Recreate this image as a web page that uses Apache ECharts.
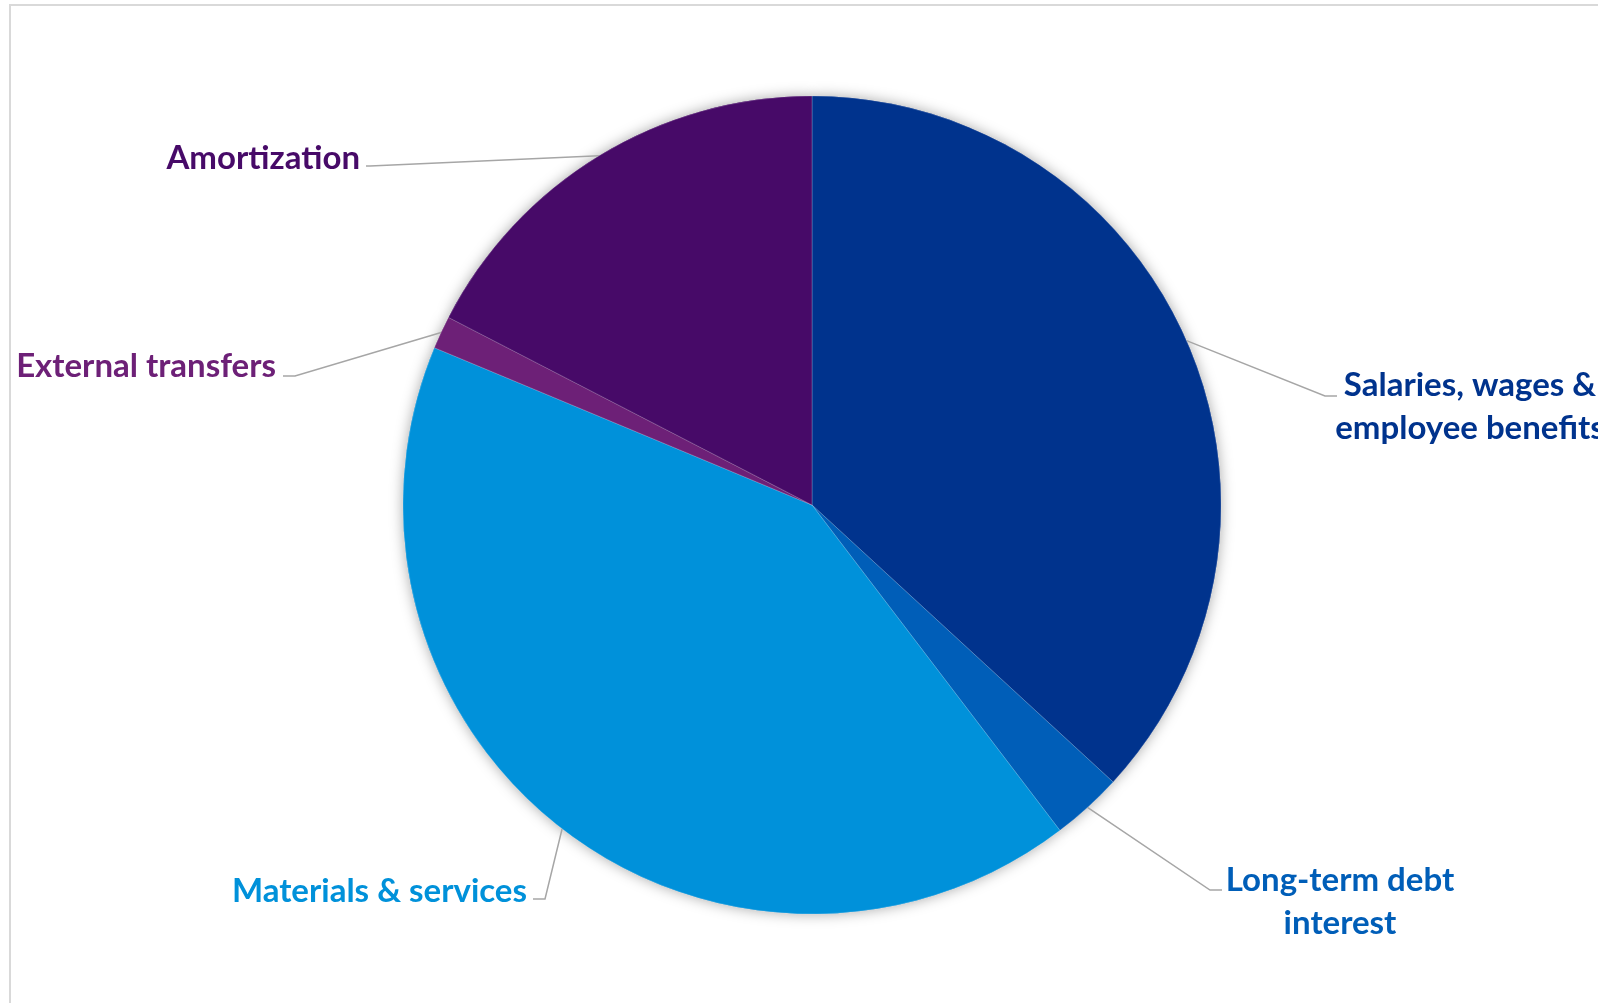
<!DOCTYPE html>
<html>
<head>
<meta charset="utf-8">
<script src="https://cdn.jsdelivr.net/npm/echarts@6/dist/echarts.min.js"></script>
<style>
  html, body { margin: 0; padding: 0; background: #ffffff; overflow: hidden; }
  #frame { position: absolute; left: 9px; top: 4px; width: 2000px; height: 2000px; border: 2px solid #d9d9d9; box-sizing: border-box; }
  #chart { position: absolute; left: 0; top: 0; width: 1598px; height: 1003px; }
</style>
</head>
<body>
<div id="frame"></div>
<div id="chart"></div>
<script>
// ---- data ----
const categories = [
  'Salaries, wages &\nemployee benefits',
  'Long-term debt\ninterest',
  'Materials & services',
  'External transfers',
  'Amortization'
];
const values = [36.8, 2.8, 41.6, 1.3, 17.4];
const colors = ['#00338D', '#005EB8', '#0091DA', '#6D2077', '#470A68'];

// ---- label placement (layout only) ----
const labelPlace = [
  { x: 1470, y: 407, align: 'center', bend: [1325, 396], end: [1337, 396] },
  { x: 1340, y: 902, align: 'center', bend: [1210, 890], end: [1222, 890] },
  { x: 527,  y: 891, align: 'right',  bend: [545, 899],  end: [533, 899] },
  { x: 276,  y: 366, align: 'right',  bend: [295, 376],  end: [283, 376] },
  { x: 360,  y: 158, align: 'right',  bend: [370, 166],  end: [366, 166] }
];

const FONT = 'Lato';
const chart = echarts.init(document.getElementById('chart'), null, { renderer: 'canvas' });

const pieData = categories.map((c, i) => ({
  name: c,
  value: values[i],
  itemStyle: { color: colors[i] },
  label: { color: colors[i] }
}));

const option = {
  backgroundColor: 'transparent',
  animation: false,
  series: [
    {
      type: 'pie',
      silent: true,
      center: [812, 505],
      radius: 409,
      startAngle: 90,
      clockwise: true,
      z: 1,
      label: { show: false },
      labelLine: { show: false },
      itemStyle: { shadowBlur: 14, shadowColor: 'rgba(0,0,0,0.35)', shadowOffsetX: 0, shadowOffsetY: 0 },
      data: pieData.map(d => ({ name: d.name, value: d.value, itemStyle: d.itemStyle }))
    },
    {
      type: 'pie',
      center: [812, 505],
      radius: 409,
      startAngle: 90,
      clockwise: true,
      z: 2,
      avoidLabelOverlap: false,
      itemStyle: { borderColor: 'rgba(255,255,255,0.25)', borderWidth: 0.8 },
      label: {
        show: true,
        position: 'outside',
        fontFamily: FONT,
        fontWeight: 'bold',
        fontSize: 33,
        lineHeight: 43,
        formatter: '{b}'
      },
      labelLine: {
        show: true,
        length: 20,
        length2: 20,
        lineStyle: { color: '#a6a6a6', width: 1.5 }
      },
      labelLayout: function (params) {
        const p = labelPlace[params.dataIndex];
        const start = params.labelLinePoints ? params.labelLinePoints[0] : p.bend;
        return {
          x: p.x,
          y: p.y,
          align: p.align,
          verticalAlign: 'middle',
          labelLinePoints: [start, p.bend, p.end]
        };
      },
      data: pieData
    }
  ]
};
chart.setOption(option);
</script>
</body>
</html>
